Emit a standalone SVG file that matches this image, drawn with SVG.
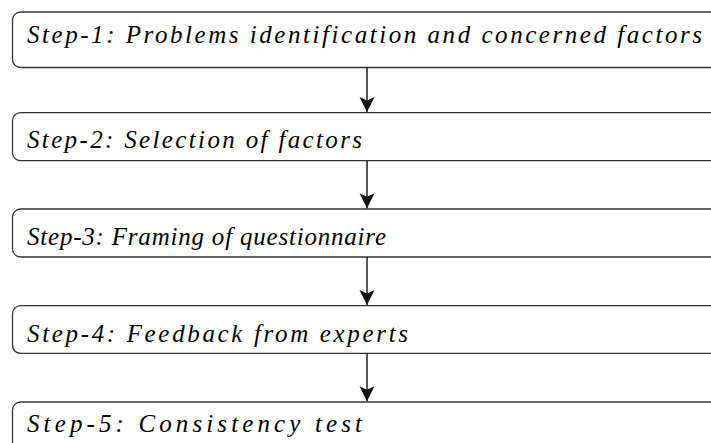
<svg xmlns="http://www.w3.org/2000/svg" width="711" height="443" viewBox="0 0 711 443">
  <defs>
    <marker id="head" viewBox="0 0 16 16" refX="15" refY="8" markerWidth="16" markerHeight="16" markerUnits="userSpaceOnUse" orient="auto">
      <path d="M0,0.5 L15,8 L0,15.5 L3.5,8 Z" fill="#111111"/>
    </marker>
  </defs>
  <rect width="711" height="443" fill="#ffffff"/>

  <!-- five stacked step boxes, open on the right edge -->
  <g id="step-1">
    <rect x="12.5" y="12" width="720" height="55.5" rx="8" fill="#ffffff" stroke="#333333" stroke-width="1.3"/>
    <text x="27" y="43" font-family="Times New Roman" font-style="italic" font-size="25" textLength="675" lengthAdjust="spacing">Step-1: Problems identification and concerned factors</text>
  </g>
  <g id="step-2">
    <rect x="12.5" y="112.7" width="720" height="48" rx="8" fill="#ffffff" stroke="#333333" stroke-width="1.3"/>
    <text x="27" y="148" font-family="Times New Roman" font-style="italic" font-size="25" textLength="335" lengthAdjust="spacing">Step-2: Selection of factors</text>
  </g>
  <g id="step-3">
    <rect x="12.5" y="209" width="720" height="48" rx="8" fill="#ffffff" stroke="#333333" stroke-width="1.3"/>
    <text x="27" y="245" font-family="Times New Roman" font-style="italic" font-size="25" textLength="359" lengthAdjust="spacing">Step-3: Framing of questionnaire</text>
  </g>
  <g id="step-4">
    <rect x="12.5" y="305.7" width="720" height="47.6" rx="8" fill="#ffffff" stroke="#333333" stroke-width="1.3"/>
    <text x="27" y="341.7" font-family="Times New Roman" font-style="italic" font-size="25" textLength="381" lengthAdjust="spacing">Step-4: Feedback from experts</text>
  </g>
  <g id="step-5">
    <rect x="12.5" y="402" width="720" height="80" rx="8" fill="#ffffff" stroke="#333333" stroke-width="1.3"/>
    <text x="27" y="431.7" font-family="Times New Roman" font-style="italic" font-size="25" textLength="335" lengthAdjust="spacing">Step-5: Consistency test</text>
  </g>

  <g id="connectors" stroke="#111111" stroke-width="1.4" fill="none">
    <line x1="367" y1="67.5" x2="367" y2="112" marker-end="url(#head)"/>
    <line x1="367" y1="160.7" x2="367" y2="208.3" marker-end="url(#head)"/>
    <line x1="367" y1="257" x2="367" y2="305" marker-end="url(#head)"/>
    <line x1="367" y1="353.3" x2="367" y2="401.3" marker-end="url(#head)"/>
  </g>
</svg>
